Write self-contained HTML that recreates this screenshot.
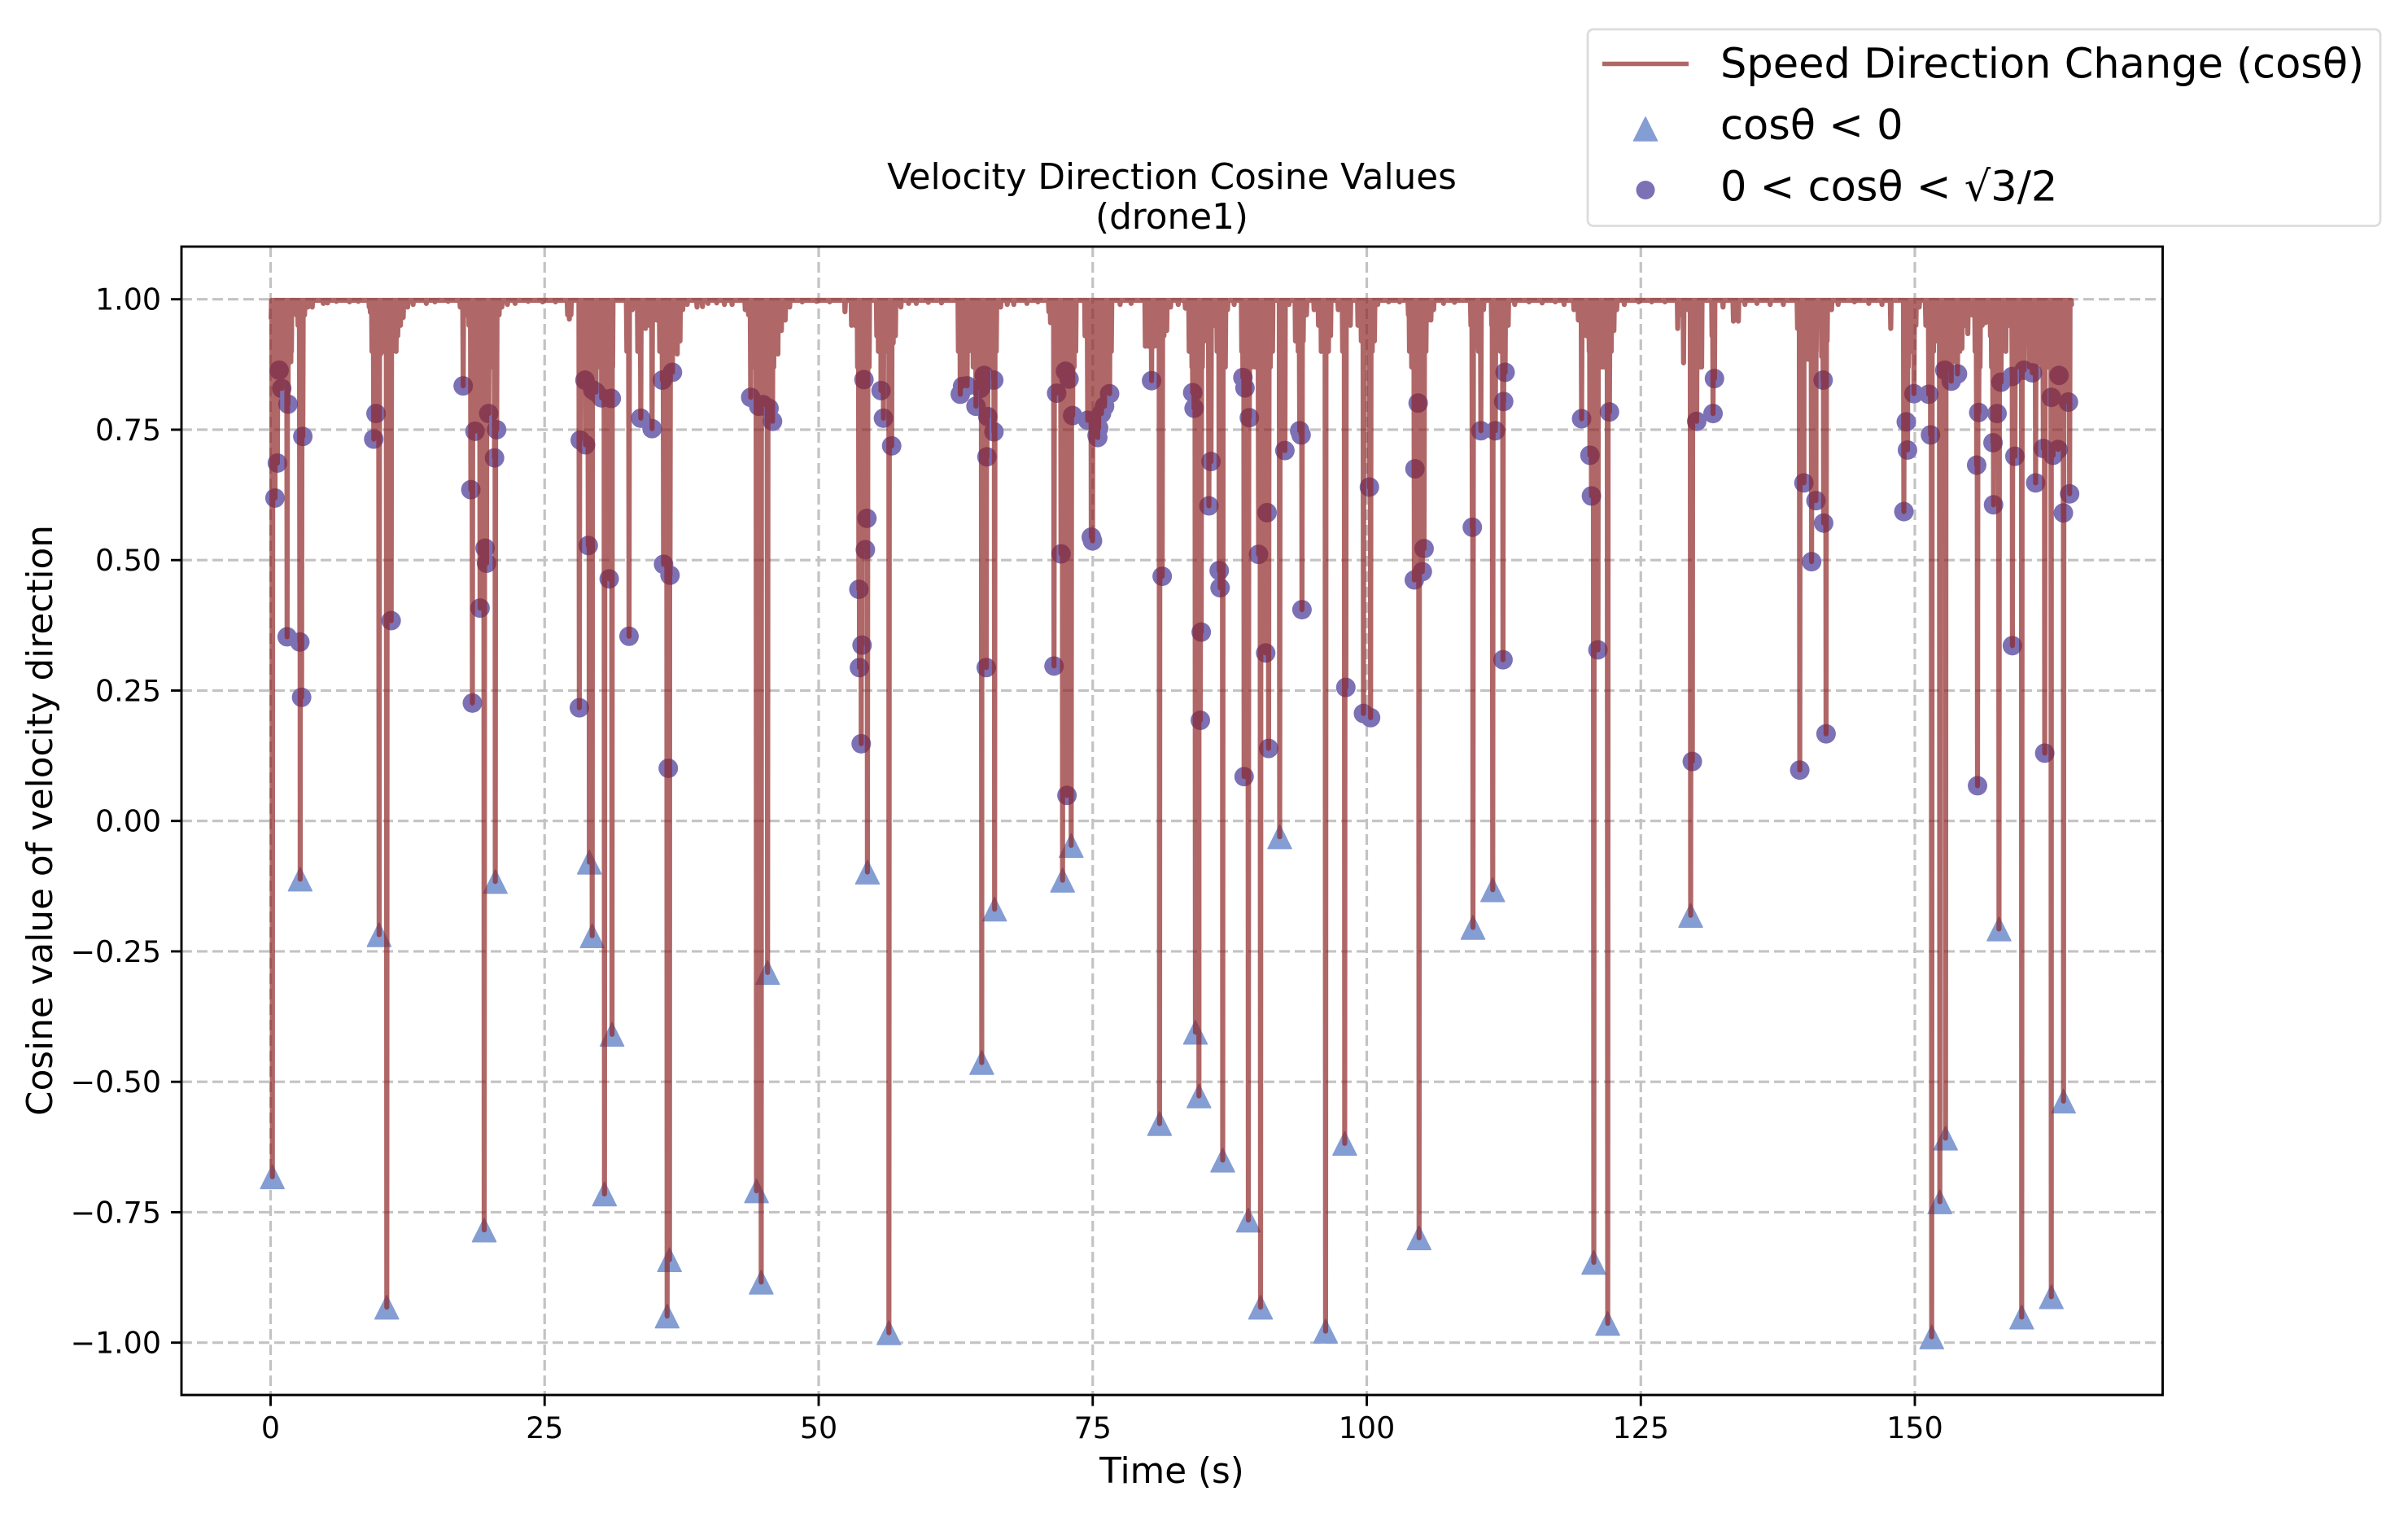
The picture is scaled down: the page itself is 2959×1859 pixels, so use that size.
<!DOCTYPE html>
<html lang="en">
<head>
<meta charset="utf-8">
<title>Velocity Direction Cosine Values (drone1)</title>
<style>
html,body{margin:0;padding:0;background:#fff;}
svg{display:block;}
text{font-family:"DejaVu Sans","Liberation Sans",sans-serif;fill:#000;}
</style>
</head>
<body>
<svg id="chart" xmlns="http://www.w3.org/2000/svg" width="2959" height="1859" viewBox="0 0 2959 1859">
  <rect x="0" y="0" width="2959" height="1859" fill="#ffffff"/>
  <g id="grid"></g>
  <g id="triangles"></g>
  <g id="dots"></g>
  <path id="cosLine" fill="none" stroke="#8e2727" stroke-opacity="0.7" stroke-width="6.2" stroke-linejoin="round" stroke-linecap="round"/>
  <rect x="223" y="303" width="2434.5" height="1411" fill="none" stroke="#000" stroke-width="2.9"/>
  <g id="ticks"></g>
  <text x="1440" y="232" font-size="43.7" text-anchor="middle">Velocity Direction Cosine Values</text>
  <text x="1440" y="281" font-size="43.7" text-anchor="middle">(drone1)</text>
  <text x="1440" y="1822" font-size="43.7" text-anchor="middle">Time (s)</text>
  <text transform="translate(64,1008) rotate(-90)" font-size="43.7" text-anchor="middle">Cosine value of velocity direction</text>
  <g>
    <rect x="1951" y="36" width="974" height="241.5" rx="7" ry="7" fill="#ffffff" stroke="#dcdcdc" stroke-width="2.8"/>
    <line x1="1969" y1="78.5" x2="2075" y2="78.5" stroke="#8e2727" stroke-opacity="0.7" stroke-width="5.5"/>
    <text x="2114" y="95.5" font-size="51">Speed Direction Change (cosθ)</text>
    <polygon points="2022,144 2036.5,173 2007.5,173" fill="#849dd3" stroke="#849dd3" stroke-width="1.5" stroke-linejoin="round"/>
    <text x="2114" y="171" font-size="51">cosθ &lt; 0</text>
    <circle cx="2022" cy="233.5" r="11.5" fill="#7c71b4"/>
    <text x="2114" y="246.5" font-size="51">0 &lt; cosθ &lt; √3/2</text>
  </g>
</svg>
<script>
// ---- chart data ----
const xTickValues = [0, 25, 50, 75, 100, 125, 150];
const xTickLabels = ["0", "25", "50", "75", "100", "125", "150"];
const yTickValues = [1, 0.75, 0.5, 0.25, 0, -0.25, -0.5, -0.75, -1];
const yTickLabels = ["1.00", "0.75", "0.50", "0.25", "0.00", "−0.25", "−0.50", "−0.75", "−1.00"];

const triangleTimes = [0.16,2.7,9.9,10.6,19.49,20.5,29.08,29.34,30.46,31.15,36.39,36.18,44.76,44.33,45.34,54.45,56.41,64.88,66.05,72.25,73.04,81.1,84.37,84.69,86.86,89.2,90.31,92.06,96.24,97.99,104.77,109.69,111.49,120.71,121.98,129.55,151.54,152.28,152.8,157.68,159.75,162.45,163.56];
const triangleValues = [-0.682,-0.1115,-0.218,-0.932,-0.784,-0.116,-0.079,-0.22,-0.715,-0.409,-0.841,-0.949,-0.884,-0.709,-0.2905,-0.098,-0.981,-0.463,-0.169,-0.1135,-0.047,-0.58,-0.405,-0.527,-0.65,-0.765,-0.932,-0.0304,-0.978,-0.618,-0.799,-0.204,-0.132,-0.846,-0.963,-0.181,-0.989,-0.73,-0.608,-0.207,-0.951,-0.912,-0.537];

const dotTimes = [0.78,1.02,1.59,2.94,0.62,0.4,1.51,2.67,2.83,17.57,9.62,9.41,11.0,19.9,18.65,20.62,20.43,18.27,19.57,19.7,19.11,18.41,28.68,29.68,30.2,31.08,29.4,35.74,36.66,33.77,34.8,28.25,28.73,28.98,30.89,32.7,35.85,36.44,28.17,36.28,
43.8,44.53,44.93,45.47,45.79,54.13,55.69,55.91,56.66,54.4,54.26,53.67,53.96,53.72,53.88,63.13,62.92,63.54,64.35,65.1,64.75,65.97,65.43,65.99,65.35,65.29,71.71,72.52,72.84,71.47,72.11,72.65,73.17,74.54,75.4,76.54,76.08,75.8,75.54,75.46,74.87,74.98,80.37,81.34,
84.12,84.25,85.79,85.6,86.54,86.62,84.9,84.82,88.7,88.89,89.29,90.91,90.13,90.78,91.05,88.81,92.53,93.88,94.01,94.09,98.09,99.7,100.35,100.24,104.69,104.4,105.23,105.07,104.34,109.63,110.41,111.73,112.49,112.62,112.43,119.6,120.36,120.5,121.09,122.14,
131.72,131.59,130.1,129.7,141.63,139.88,140.98,141.68,140.58,141.9,139.5,149.92,151.27,149.22,149.33,151.43,149.0,152.73,153.89,153.32,155.83,157.5,155.64,157.13,157.18,155.72,157.86,158.88,159.96,160.72,159.13,158.9,161.02,161.85,161.72,162.61,163.07,163.15,162.45,164.01,164.12,163.55];
const dotValues = [0.864,0.829,0.799,0.737,0.686,0.619,0.353,0.343,0.237,0.834,0.781,0.732,0.384,0.781,0.747,0.75,0.696,0.635,0.523,0.494,0.408,0.226,0.845,0.822,0.811,0.81,0.826,0.845,0.86,0.772,0.752,0.73,0.721,0.528,0.464,0.354,0.492,0.471,0.217,0.101,
0.812,0.795,0.798,0.791,0.766,0.846,0.825,0.772,0.719,0.58,0.52,0.444,0.337,0.294,0.148,0.833,0.818,0.834,0.795,0.854,0.829,0.845,0.775,0.746,0.698,0.294,0.82,0.862,0.847,0.297,0.512,0.049,0.777,0.768,0.739,0.819,0.795,0.781,0.753,0.735,0.544,0.537,0.844,0.469,
0.821,0.791,0.689,0.604,0.48,0.447,0.362,0.193,0.85,0.83,0.773,0.591,0.511,0.322,0.139,0.085,0.71,0.748,0.74,0.405,0.256,0.206,0.198,0.64,0.801,0.675,0.522,0.478,0.462,0.563,0.748,0.748,0.804,0.86,0.309,0.771,0.701,0.623,0.328,0.784,
0.848,0.781,0.766,0.114,0.845,0.648,0.614,0.571,0.497,0.167,0.0975,0.819,0.818,0.765,0.711,0.74,0.593,0.864,0.857,0.843,0.783,0.781,0.682,0.725,0.606,0.0675,0.841,0.852,0.864,0.859,0.699,0.336,0.648,0.13,0.714,0.701,0.712,0.854,0.812,0.803,0.627,0.5905];

const shallowDipTimes = [0.05,0.25,0.35,0.45,0.55,0.7,0.85,0.95,1.15,1.3,1.45,1.7,1.85,1.9,2.1,2.35,2.5,3.1,3.4,3.8,4.8,5.2,6,7.2,8,
9,9.1,9.25,9.55,9.75,10.05,10.3,10.5,10.8,11.2,11.45,11.6,11.85,12.1,12.5,13,14.2,15,16.2,
17.3,17.9,18.1,18.3,18.5,18.75,19,19.25,19.4,19.75,20.05,20.25,20.45,20.85,21.1,21.6,22.3,23.5,24.8,26,
27.1,27.25,27.4,28.4,28.55,28.9,29.2,29.55,29.8,30.05,30.15,30.35,30.6,30.75,31,31.2,32.5,33,33.5,34.2,34.55,35.2,35.5,36.8,37.1,37.35,37.6,38,38.9,39.4,39.9,40.7,
41.4,42.1,43.3,43.6,44.05,44.2,44.4,44.65,44.8,45,45.2,45.6,45.9,46.1,46.28,46.6,46.95,47.35,48.5,49.8,51,
52.4,53,53.3,53.55,53.8,54,54.3,54.6,55.3,55.45,55.65,55.85,56.2,56.4,56.8,57,57.5,58.2,58.9,60,61.2,
62.75,63,63.3,63.65,64.1,64.5,64.9,65.2,65.6,65.8,66.2,66.6,67.2,67.8,69,70,
71,71.15,71.6,71.9,72.2,72.35,72.45,72.7,73,73.3,73.45,74.3,74.7,75.2,75.7,75.9,76.3,76.7,77.5,78.5,
79.8,80.05,80.6,80.9,81.15,81.5,81.75,82.1,82.8,83.45,83.8,84.05,84.5,84.7,85,85.2,85.4,86.1,86.35,86.8,87.1,87.3,87.9,
88.6,88.75,89.05,89.5,89.8,90,90.45,90.6,91.2,91.4,92.2,92.4,92.9,93.5,93.75,94.2,94.5,
95.2,95.6,95.85,96.1,96.5,96.7,97.4,97.8,98.5,99.2,99.5,99.9,100.1,100.5,100.7,101,102,103,
103.8,103.9,104.1,104.55,104.9,105.4,105.6,105.85,106.1,107,108,109.5,110,110.2,110.65,111.4,111.9,112.2,112.9,113.5,114.8,116,117.2,118,
118.9,119.3,119.7,120.05,120.3,120.6,120.9,121.2,121.47,121.7,121.9,122.3,122.55,122.8,123.5,124.8,126,127.2,
128.37,128.7,128.9,129.3,129.9,130.2,130.4,130.55,131.5,131.7,132.5,133.45,133.9,134.5,135.6,136.8,138,
139.3,139.6,139.9,140.25,140.5,140.8,141,141.5,141.74,142,142.4,143,144.5,145.8,147,147.8,
149.1,149.4,149.6,149.8,150.1,150.4,151,151.4,151.7,152,152.4,152.6,152.9,153.1,153.5,153.7,154.1,154.3,154.55,154.83,155.2,155.5,155.95,156.15,156.45,156.9,157,157.35,157.53,158.08,158.3,158.6,159.3,159.5,159.7,160.2,160.45,160.9,161.3,161.6,162,162.2,162.7,162.9,163.3,163.75,163.9,164.3];
const shallowDipValues = [0.964,0.88,0.87,0.87,0.87,0.86,0.87,0.87,0.87,0.87,0.87,0.88,0.88,0.9,0.985,0.97,0.95,0.97,0.985,0.985,0.992,0.993,0.996,0.995,0.996,
0.985,0.975,0.9,0.88,0.89,0.895,0.9,0.9,0.9,0.92,0.9,0.93,0.95,0.965,0.985,0.99,0.992,0.995,0.996,
0.985,0.97,0.95,0.87,0.87,0.87,0.87,0.87,0.87,0.87,0.87,0.87,0.9,0.97,0.985,0.99,0.992,0.996,0.995,0.995,
0.97,0.962,0.97,0.87,0.87,0.87,0.87,0.87,0.87,0.87,0.87,0.87,0.87,0.87,0.87,0.87,0.9,0.98,0.9,0.944,0.95,0.96,0.9,0.9,0.895,0.92,0.98,0.99,0.985,0.986,0.992,0.993,
0.99,0.99,0.98,0.97,0.87,0.87,0.87,0.87,0.96,0.87,0.87,0.87,0.87,0.9,0.895,0.94,0.96,0.985,0.995,0.996,0.995,
0.976,0.95,0.95,0.87,0.87,0.87,0.87,0.87,0.93,0.9,0.9,0.9,0.9,0.9,0.916,0.93,0.985,0.992,0.992,0.994,0.993,
0.9,0.87,0.87,0.9,0.87,0.87,0.87,0.87,0.87,0.87,0.9,0.985,0.99,0.99,0.992,0.995,
0.976,0.955,0.87,0.87,0.87,0.87,0.87,0.87,0.87,0.87,0.9,0.93,0.9,0.88,0.87,0.9,0.9,0.9,0.99,0.992,
0.91,0.91,0.91,0.91,0.9,0.93,0.94,0.985,0.99,0.983,0.9,0.87,0.87,0.87,0.87,0.92,0.93,0.95,0.9,0.87,0.87,0.98,0.99,
0.9,0.87,0.87,0.87,0.87,0.87,0.87,0.87,0.87,0.9,0.962,0.95,0.99,0.92,0.9,0.92,0.97,
0.98,0.95,0.9,0.9,0.9,0.93,0.98,0.9,0.95,0.95,0.92,0.9,0.9,0.9,0.92,0.99,0.995,0.995,
0.97,0.9,0.87,0.87,0.87,0.9,0.96,0.96,0.98,0.992,0.994,0.95,0.91,0.9,0.98,0.95,0.96,0.9,0.95,0.99,0.995,0.993,0.995,0.99,
0.98,0.96,0.95,0.93,0.9,0.9,0.87,0.87,0.87,0.87,0.9,0.9,0.94,0.98,0.99,0.995,0.995,0.995,
0.944,0.97,0.878,0.98,0.87,0.87,0.87,0.87,0.93,0.96,0.985,0.958,0.958,0.99,0.992,0.99,0.99,
0.944,0.944,0.9,0.885,0.9,0.89,0.9,0.89,0.889,0.92,0.98,0.99,0.995,0.992,0.99,0.944,
0.87,0.87,0.9,0.9,0.95,0.985,0.95,0.87,0.9,0.92,0.87,0.87,0.87,0.87,0.88,0.9,0.9,0.906,0.95,0.934,0.97,0.9,0.87,0.95,0.955,0.93,0.87,0.9,0.92,0.941,0.9,0.95,0.95,0.87,0.87,0.962,0.87,0.95,0.878,0.87,0.87,0.87,0.87,0.87,0.87,0.87,0.9,0.99];

const plateauLevel = 0.998;
const dipHalfWidth = 0.04;

// ---- axis functions ----
function xScale(t) { return 332.5 + 13.47 * t; }
function yScale(v) { return 1008.7 - 641 * v; }

const SVG_NS = "http://www.w3.org/2000/svg";

// grid lines and ticks
const gridGroup = document.getElementById("grid");
const tickGroup = document.getElementById("ticks");
xTickValues.forEach(function (value, i) {
  const px = xScale(value);
  const gridLine = document.createElementNS(SVG_NS, "line");
  gridLine.setAttribute("x1", px); gridLine.setAttribute("x2", px);
  gridLine.setAttribute("y1", 303); gridLine.setAttribute("y2", 1714);
  gridLine.setAttribute("stroke", "#c3c3c3");
  gridLine.setAttribute("stroke-width", "3.2");
  gridLine.setAttribute("stroke-dasharray", "13 6");
  
  
  gridGroup.appendChild(gridLine);

  const tick = document.createElementNS(SVG_NS, "line");
  tick.setAttribute("x1", px); tick.setAttribute("x2", px);
  tick.setAttribute("y1", 1714); tick.setAttribute("y2", 1727.5);
  tick.setAttribute("stroke", "#000");
  tick.setAttribute("stroke-width", "2.9");
  
  
  tickGroup.appendChild(tick);

  const label = document.createElementNS(SVG_NS, "text");
  label.setAttribute("x", px);
  label.setAttribute("y", 1767);
  label.setAttribute("font-size", "36.4");
  label.setAttribute("text-anchor", "middle");
  label.textContent = xTickLabels[i];
  
  
  tickGroup.appendChild(label);
});
yTickValues.forEach(function (value, i) {
  const py = yScale(value);
  const gridLine = document.createElementNS(SVG_NS, "line");
  gridLine.setAttribute("x1", 223); gridLine.setAttribute("x2", 2657.5);
  gridLine.setAttribute("y1", py); gridLine.setAttribute("y2", py);
  gridLine.setAttribute("stroke", "#c3c3c3");
  gridLine.setAttribute("stroke-width", "3.2");
  gridLine.setAttribute("stroke-dasharray", "13 6");
  
  
  gridGroup.appendChild(gridLine);

  const tick = document.createElementNS(SVG_NS, "line");
  tick.setAttribute("x1", 210); tick.setAttribute("x2", 223);
  tick.setAttribute("y1", py); tick.setAttribute("y2", py);
  tick.setAttribute("stroke", "#000");
  tick.setAttribute("stroke-width", "2.9");
  
  
  tickGroup.appendChild(tick);

  const label = document.createElementNS(SVG_NS, "text");
  label.setAttribute("x", 198);
  label.setAttribute("y", py + 13);
  label.setAttribute("font-size", "36.4");
  label.setAttribute("text-anchor", "end");
  label.textContent = yTickLabels[i];
  
  
  tickGroup.appendChild(label);
});

// triangle markers
const triangleGroup = document.getElementById("triangles");
triangleTimes.forEach(function (t, i) {
  const cx = xScale(t);
  const cy = yScale(triangleValues[i]);
  const tri = document.createElementNS(SVG_NS, "polygon");
  tri.setAttribute("points", cx + "," + (cy - 14.5) + " " + (cx + 14.5) + "," + (cy + 14.5) + " " + (cx - 14.5) + "," + (cy + 14.5));
  tri.setAttribute("fill", "#849dd3");
  tri.setAttribute("stroke", "#849dd3");
  tri.setAttribute("stroke-width", "1.5");
  tri.setAttribute("stroke-linejoin", "round");
  
  
  triangleGroup.appendChild(tri);
});

// circle markers
const dotGroup = document.getElementById("dots");
dotTimes.forEach(function (t, i) {
  const dot = document.createElementNS(SVG_NS, "circle");
  dot.setAttribute("cx", xScale(t));
  dot.setAttribute("cy", yScale(dotValues[i]));
  dot.setAttribute("r", "12");
  dot.setAttribute("fill", "#7c71b4");
  
  
  dotGroup.appendChild(dot);
});

// cosine line: every marker and shallow dip, in time order, returning to the plateau between them
const lineVertices = [];
triangleTimes.forEach(function (t, i) { lineVertices.push([t, triangleValues[i]]); });
dotTimes.forEach(function (t, i) { lineVertices.push([t, dotValues[i]]); });
shallowDipTimes.forEach(function (t, i) { lineVertices.push([t, shallowDipValues[i]]); });
lineVertices.sort(function (a, b) { return a[0] - b[0]; });

let pathData = "";
lineVertices.forEach(function (vertex, i) {
  pathData += (i === 0 ? "M" : "L") + xScale(vertex[0]).toFixed(1) + " " + yScale(vertex[1]).toFixed(1);
  if (i < lineVertices.length - 1) {
    const nextTime = lineVertices[i + 1][0];
    const gap = nextTime - vertex[0];
    if (gap > 2 * dipHalfWidth) {
      pathData += "L" + xScale(vertex[0] + dipHalfWidth).toFixed(1) + " " + yScale(plateauLevel).toFixed(1);
      pathData += "L" + xScale(nextTime - dipHalfWidth).toFixed(1) + " " + yScale(plateauLevel).toFixed(1);
    } else {
      pathData += "L" + xScale(vertex[0] + gap / 2).toFixed(1) + " " + yScale(plateauLevel).toFixed(1);
    }
  }
});
document.getElementById("cosLine").setAttribute("d", pathData);
</script>
</body>
</html>
